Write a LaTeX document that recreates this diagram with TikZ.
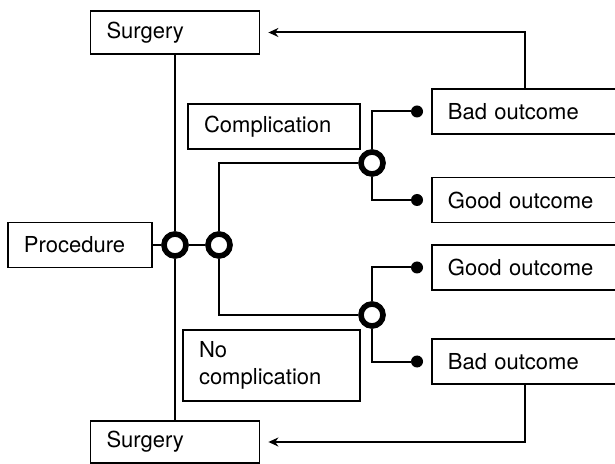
\documentclass[tikz,border=0pt]{standalone}
\usepackage{fontspec}
\setmainfont{TeX Gyre Heros}
\usetikzlibrary{arrows.meta,positioning}

\begin{document}
\begin{tikzpicture}[x=0.5pt, y=-0.5pt]
    % Styles
    \tikzstyle{box} = [rectangle, draw, line width=0.9pt, align=left,
        inner xsep=8pt, inner ysep=0pt, font=\fontsize{11}{13.5}\selectfont]
    \tikzstyle{outcome} = [box, anchor=west, text width=90pt, minimum height=22.5pt]
    \tikzstyle{choice} = [circle, draw, line width=2.8pt, fill=white,
        minimum size=11pt, inner sep=0pt]
    \tikzstyle{tip} = [circle, fill=black, minimum size=6pt, inner sep=0pt]
    \tikzstyle{line} = [line width=1pt]
    \tikzstyle{arrow} = [line width=1pt, -{Stealth[length=5pt, width=4.5pt]}, shorten >=4pt]

    \useasboundingbox (0,0) rectangle (615,464);

    % === LEFT: Procedure and Surgery ===
    \node [box, text width=56pt, minimum height=22.5pt] (proc) at (80,245) {Procedure};
    \node [box, text width=68.5pt, minimum height=21.5pt] (surgtop) at (175,32.5) {Surgery};
    \node [box, text width=68.5pt, minimum height=21pt] (surgbot) at (175,442) {Surgery};

    % Decision nodes
    \node [choice] (dec1) at (175,245) {};
    \node [choice] (dec2) at (219,245) {};

    % === MIDDLE: Complication labels ===
    \node [box, text width=70pt, minimum height=22.5pt] (comp) at (274,126.5) {Complication};
    \node [box, text width=72.5pt, minimum height=35.5pt] (nocomp) at (271.5,365.5) {No\\complication};

    % Chance nodes
    \node [choice] (chance1) at (372,163) {};
    \node [choice] (chance2) at (372,315) {};

    % === RIGHT: Outcomes ===
    \node [outcome] (bad1) at (431,111.5) {Bad outcome};
    \node [outcome] (good1) at (431,200) {Good outcome};
    \node [outcome] (good2) at (431,267.5) {Good outcome};
    \node [outcome] (bad2) at (431,361.5) {Bad outcome};

    % End points
    \node [tip] (tip1) at ([xshift=-7pt]bad1.west) {};
    \node [tip] (tip2) at ([xshift=-7pt]good1.west) {};
    \node [tip] (tip3) at ([xshift=-7pt]good2.west) {};
    \node [tip] (tip4) at ([xshift=-7pt]bad2.west) {};
    \coordinate (back1) at ([xshift=47pt]bad1.north west);
    \coordinate (back2) at ([xshift=47pt]bad2.south west);

    % === LINES: Tree ===
    \draw [line] (proc) -- (dec1);
    \draw [line] (dec1) -- (dec2);
    \draw [line] (surgtop) -- (dec1);
    \draw [line] (dec1) -- (surgbot);
    \draw [line] (dec2) |- (chance1);
    \draw [line] (dec2) |- (chance2);
    \draw [line] (chance1) |- (tip1);
    \draw [line] (chance1) |- (tip2);
    \draw [line] (chance2) |- (tip3);
    \draw [line] (chance2) |- (tip4);

    % === ARROWS: Back to surgery ===
    \draw [arrow] (back1) |- (surgtop.east);
    \draw [arrow] (back2) |- (surgbot.east);

\end{tikzpicture}
\end{document}
